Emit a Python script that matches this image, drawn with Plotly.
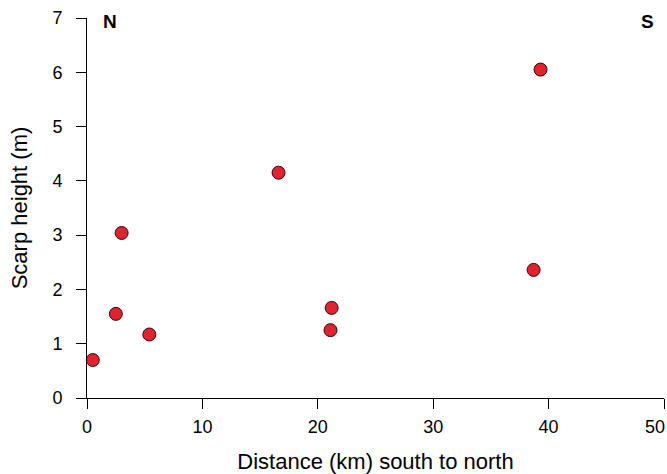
import plotly.graph_objects as go

distance_km = [0.5, 2.5, 3.0, 5.4, 16.6, 21.2, 21.1, 38.7, 39.3]
scarp_height_m = [0.70, 1.55, 3.04, 1.17, 4.15, 1.66, 1.25, 2.36, 6.05]

x_ticks = [0, 10, 20, 30, 40, 50]
x_tick_labels = ["0", "10", "20", "30", "40", "50"]
y_ticks = [0, 1, 2, 3, 4, 5, 6, 7]

fig = go.Figure()
fig.add_trace(go.Scatter(
    x=distance_km, y=scarp_height_m, mode="markers",
    marker=dict(size=13, color="#E0232E", line=dict(color="#2a0a0a", width=1)),
    showlegend=False, cliponaxis=False,
))

font = "Liberation Sans, Arial, sans-serif"
# last tick label drawn right-aligned at its tick so it stays inside the page
shown_labels = x_tick_labels[:-1] + [""]
fig.update_layout(
    width=667, height=474,
    margin=dict(l=87, r=3, t=18, b=76),
    paper_bgcolor="white", plot_bgcolor="white",
    font=dict(family=font, size=18, color="black"),
    xaxis=dict(
        range=[0, 50], tickvals=x_ticks, ticktext=shown_labels,
        showgrid=False, zeroline=False,
        showline=True, linecolor="black", linewidth=1,
        ticks="outside", ticklen=10, tickcolor="black", tickwidth=1,
        ticklabelstandoff=2, ticklabeloverflow="allow", automargin=False,
        title=dict(text="Distance (km) south to north", font=dict(size=22), standoff=19),
        tickfont=dict(size=18),
    ),
    yaxis=dict(
        range=[0, 7], tickvals=y_ticks, showgrid=False, zeroline=False,
        showline=True, linecolor="black", linewidth=1,
        ticks="outside", ticklen=10, tickcolor="black", tickwidth=1,
        ticklabelstandoff=10, ticklabeloverflow="allow", automargin=False,
        title=dict(text="Scarp height (m)", font=dict(size=22), standoff=18),
        tickfont=dict(size=18),
    ),
    annotations=[
        dict(x=2.0, y=6.93, xref="x", yref="y", text="<b>N</b>", showarrow=False,
             font=dict(size=19, family=font)),
        dict(x=48.6, y=6.93, xref="x", yref="y", text="<b>S</b>", showarrow=False,
             font=dict(size=19, family=font)),
        dict(x=x_ticks[-1], y=0, xref="x", yref="y", text=x_tick_labels[-1],
             showarrow=False, xanchor="right", yanchor="top", xshift=3, yshift=-17,
             font=dict(size=18, family=font)),
    ],
)
fig.write_html(
    "out.html",
    config={"displayModeBar": False},
    post_script="document.body.style.margin='0';document.body.style.overflow='hidden';",
)
